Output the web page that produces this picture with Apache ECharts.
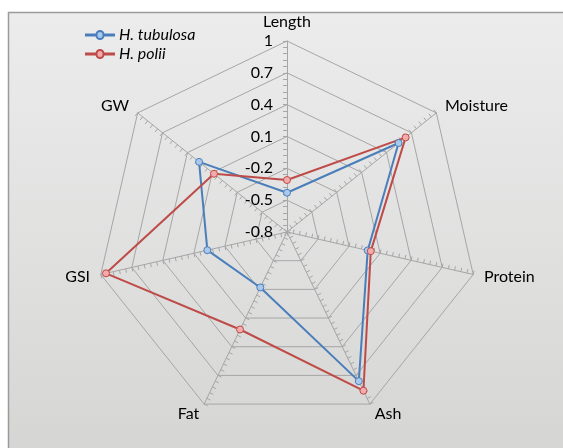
<!DOCTYPE html>
<html>
<head>
<meta charset="utf-8">
<script src="https://cdn.jsdelivr.net/npm/echarts@6/dist/echarts.min.js"></script>
<style>html,body{margin:0;padding:0;background:#fff;}#c{width:563px;height:448px;}</style>
</head>
<body>
<div id="c"></div>
<script>
// Indicators in clockwise order starting at top
const indicators = ['Length', 'Moisture', 'Protein', 'Ash', 'Fat', 'GSI', 'GW'];
const tubulosa = [-0.43, 0.545, -0.02, 0.76, -0.22, -0.03, 0.26];
const polii = [-0.31, 0.63, 0.01, 0.86, 0.22, 0.95, 0.08];
const seriesNames = ['H. tubulosa', 'H. polii'];
const axisMin = -0.8, axisMax = 1;

// ECharts places indicators counter-clockwise; reorder so they appear clockwise.
const order = [0, 6, 5, 4, 3, 2, 1];
const reorder = arr => order.map(i => arr[i]);

const FONT = 'Lato, "Open Sans", sans-serif';
const gridColor = '#a6a6a6';
const legendIcon = 'path://M0,4.5 H10.5 A3.5,3.5 0 1 1 17.5,4.5 H28 V5.5 H17.5 A3.5,3.5 0 1 1 10.5,5.5 H0 Z';

const indicatorOpts = order.map((i, k) => {
  const o = {
    name: indicators[i], min: axisMin, max: axisMax,
    minorTick: {show: true, splitNumber: 5, length: 4, lineStyle: {color: gridColor}}
  };
  if (k === 0) {
    o.axisLabel = {show: true, color: '#000', fontSize: 16, fontFamily: FONT, margin: 14};
  }
  return o;
});

const chart = echarts.init(document.getElementById('c'));
chart.setOption({
  animation: false,
  graphic: [{
    type: 'rect', z: -10, silent: true,
    shape: {x: 8.5, y: 12.5, width: 620, height: 500},
    style: {
      fill: new echarts.graphic.LinearGradient(0, 0, 0, 1, [
        {offset: 0, color: '#ececec'}, {offset: 1, color: '#d2d3d1'}
      ]),
      stroke: '#9a9a9a', lineWidth: 1.5
    }
  }],
  legend: {
    orient: 'vertical', left: 80, top: 22, itemGap: 3,
    itemWidth: 28, itemHeight: 10, icon: legendIcon,
    textStyle: {fontSize: 16, fontStyle: 'italic', fontFamily: FONT, color: '#000'},
    data: seriesNames
  },
  radar: {
    center: [287, 232], radius: 191, splitNumber: 6, shape: 'polygon',
    indicator: indicatorOpts,
    axisName: {color: '#000', fontSize: 16, fontFamily: FONT},
    nameGap: 11,
    axisLine: {lineStyle: {color: gridColor, width: 1}},
    splitLine: {lineStyle: {color: gridColor, width: 1}},
    splitArea: {show: false},
    axisTick: {show: true, length: 4, lineStyle: {color: gridColor}},
    axisLabel: {show: false}
  },
  series: [{
    type: 'radar',
    symbol: 'circle', symbolSize: 7,
    data: [
      {
        name: seriesNames[0], value: reorder(tubulosa),
        lineStyle: {color: '#4a7ebb', width: 2},
        itemStyle: {color: '#a9c8ec', borderColor: '#4a7ebb', borderWidth: 1}
      },
      {
        name: seriesNames[1], value: reorder(polii),
        lineStyle: {color: '#be4b48', width: 2},
        itemStyle: {color: '#f2aaaa', borderColor: '#be4b48', borderWidth: 1}
      }
    ]
  }]
});
</script>
</body>
</html>
